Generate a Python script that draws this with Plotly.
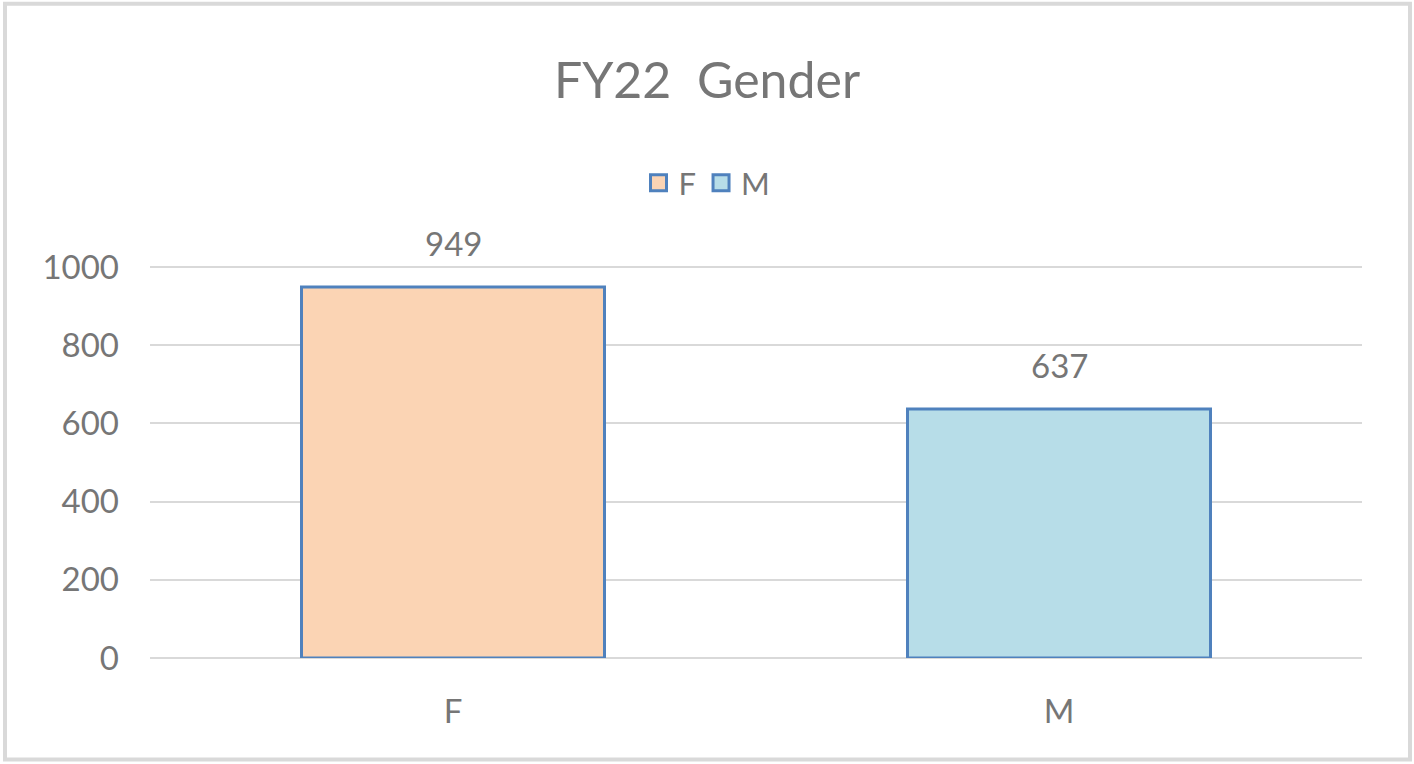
import plotly.graph_objects as go

categories = ["F", "M"]
values = [949, 637]
fill_colors = ["#FBD4B4", "#B7DDE8"]
y_ticks = [0, 200, 400, 600, 800, 1000]
title_text = "FY22  Gender"

W, H = 1414, 764
ML, MR, MT, MB = 150, 52, 267, 106
PW, PH = W - ML - MR, H - MT - MB

FONT = "Lato, Calibri, Carlito, sans-serif"
GRAY = "#767676"
EDGE = "#4F81BD"

fig = go.Figure()
for cat, val, col in zip(categories, values, fill_colors):
    fig.add_trace(go.Bar(
        x=[cat], y=[val], name=cat, width=0.5,
        marker=dict(color=col, line=dict(color=EDGE, width=3)),
        showlegend=False, legendgroup=cat,
    ))
    fig.add_trace(go.Scatter(
        x=[None], y=[None], name=cat, mode="markers", legendgroup=cat,
        marker=dict(symbol="square", size=16, color=col,
                    line=dict(color=EDGE, width=3)),
        showlegend=True,
    ))
    fig.add_annotation(x=cat, y=val, text=str(val), showarrow=False,
                       yanchor="bottom", yshift=22,
                       font=dict(family=FONT, size=33, color=GRAY))

def px_to_paper_x(px):
    return (px - ML) / PW

def px_to_paper_y(py):
    return (H - MB - py) / PH

fig.add_shape(type="rect", xref="paper", yref="paper",
              x0=px_to_paper_x(5), x1=px_to_paper_x(1410),
              y0=px_to_paper_y(759), y1=px_to_paper_y(7),
              line=dict(color="#D9D9D9", width=4), layer="below")

fig.update_layout(
    width=W, height=H,
    margin=dict(l=ML, r=MR, t=MT - 2, b=MB),
    paper_bgcolor="white", plot_bgcolor="white",
    barmode="overlay",
    title=dict(text=title_text, x=0.5, xanchor="center", y=1 - 80 / H,
               yanchor="middle", font=dict(family=FONT, size=50, color=GRAY)),
    legend=dict(orientation="h", xref="container", yref="container",
                x=0.5, xanchor="center", y=1 - 183 / H, yanchor="middle",
                font=dict(family=FONT, size=31, color=GRAY),
                traceorder="normal"),
    xaxis=dict(type="category", showgrid=False, showline=False, zeroline=False,
               tickfont=dict(family=FONT, size=33, color=GRAY),
               ticklabelstandoff=31),
    yaxis=dict(range=[0, 1005], tickvals=y_ticks, showgrid=True,
               gridcolor="#D9D9D9", gridwidth=2, zeroline=True,
               zerolinecolor="#D9D9D9", zerolinewidth=2, showline=False,
               tickfont=dict(family=FONT, size=33, color=GRAY),
               ticklabelstandoff=30),
)

fig.write_html("out.html", config={"displayModeBar": False},
               post_script="document.body.style.margin='0';")
